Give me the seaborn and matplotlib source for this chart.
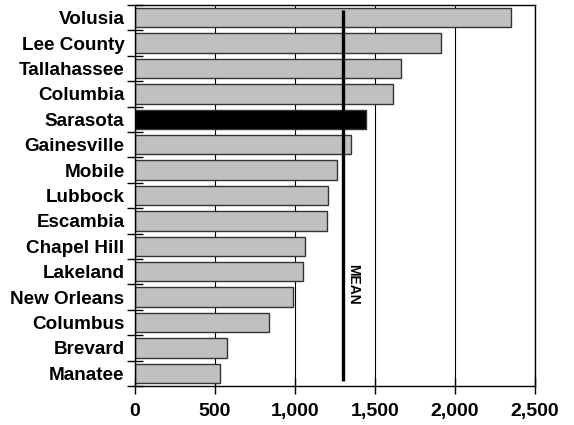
import matplotlib
matplotlib.use("Agg")
import matplotlib.pyplot as plt
import seaborn as sns
import pandas as pd
import numpy as np

sites = ["Volusia", "Lee County", "Tallahassee", "Columbia", "Sarasota",
         "Gainesville", "Mobile", "Lubbock", "Escambia", "Chapel Hill",
         "Lakeland", "New Orleans", "Columbus", "Brevard", "Manatee"]
counts = [2351, 1910, 1663, 1613, 1441, 1352, 1263, 1208, 1199, 1061,
          1052, 988, 839, 574, 533]
highlight = "Sarasota"
mean_value = 1297
x_ticks = [0, 500, 1000, 1500, 2000, 2500]
x_labels = ["0", "500", "1,000", "1,500", "2,000", "2,500"]

sns.set_style("white")
plt.rcParams["font.family"] = ["Liberation Sans", "DejaVu Sans"]
plt.rcParams["font.weight"] = "bold"
plt.rcParams["text.color"] = "black"
plt.rcParams["xtick.color"] = "black"
plt.rcParams["ytick.color"] = "black"

df = pd.DataFrame({"site": sites, "count": counts})
colors = {s: ("black" if s == highlight else "#c0c0c0") for s in sites}

fig = plt.figure(figsize=(5.74, 4.25), dpi=100)
ax = fig.add_axes([135 / 574, 1 - 386 / 425, 400 / 574, 381 / 425])

sns.barplot(data=df, x="count", y="site", hue="site", palette=colors,
            order=sites, legend=False, width=0.76, edgecolor="#333333",
            linewidth=1.0, saturation=1, ax=ax)

ax.set_xlim(0, 2500)
ax.set_ylim(14.5, -0.5)
ax.set_axisbelow(True)
ax.xaxis.grid(True, color="black", linewidth=0.8)
ax.yaxis.grid(False)

for sp in ax.spines.values():
    sp.set_color("black")
    sp.set_linewidth(1.0)
    sp.set_visible(True)

# category labels centred on bars, tick marks drawn between them
ax.set_yticks(range(len(sites)))
ax.set_yticklabels(sites, fontsize=13.6, fontweight="bold", color="black")
ax.tick_params(axis="y", which="major", left=True, length=0, pad=7.5)
ax.set_yticks(np.arange(-0.5, len(sites)), minor=True)
ax.tick_params(axis="y", which="minor", left=True, direction="inout",
               length=11.5, width=1.0, color="black")

ax.set_xticks(x_ticks)
ax.set_xticklabels(x_labels, fontsize=14, fontweight="bold", color="black")
ax.tick_params(axis="x", which="major", bottom=True, direction="inout",
               length=11, width=1.0, color="black", pad=7)

ax.set_xlabel("")
ax.set_ylabel("")

# mean marker
ax.vlines(mean_value, -0.3, 14.3, color="black", linewidth=2.4, zorder=5)
ax.annotate("MEAN", xy=(mean_value, 10.5), xytext=(2.5, 0),
            textcoords="offset points", rotation=-90, ha="left", va="center",
            fontsize=10, fontweight="bold", color="black", zorder=6)

fig.savefig("out.png", dpi=100)
